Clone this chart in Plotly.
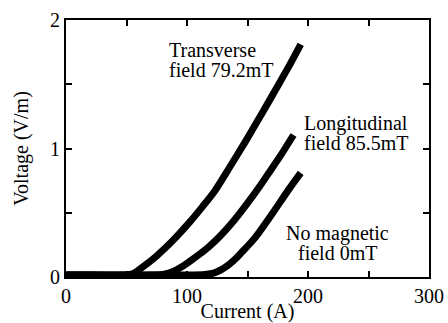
import plotly.graph_objects as go

# Transverse field 79.2 mT
trans_current = [0, 20, 40, 50, 55, 61, 68, 75, 82, 90, 102, 113, 123, 135, 148, 158, 167, 177, 186, 194]
trans_voltage = [0.015, 0.015, 0.012, 0.015, 0.025, 0.061, 0.11, 0.165, 0.225, 0.30, 0.425, 0.55, 0.67, 0.85, 1.05, 1.21, 1.355, 1.52, 1.67, 1.81]

# Longitudinal field 85.5 mT
long_current = [0, 40, 70, 80, 88, 95, 102, 110, 118, 126, 138, 150, 160, 168, 177, 188]
long_voltage = [0.015, 0.015, 0.015, 0.02, 0.04, 0.075, 0.12, 0.175, 0.235, 0.305, 0.43, 0.575, 0.705, 0.815, 0.94, 1.105]

# No magnetic field 0 mT
zero_current = [0, 60, 100, 115, 122, 128, 135, 141, 147, 153, 159, 171, 184, 194]
zero_voltage = [0.015, 0.015, 0.015, 0.02, 0.03, 0.055, 0.10, 0.15, 0.21, 0.27, 0.34, 0.50, 0.68, 0.81]

x_ticks = [0, 100, 200, 300]
y_ticks = [0, 1, 2]

FONT = "Liberation Serif"

fig = go.Figure()
for xs, ys in [(trans_current, trans_voltage), (long_current, long_voltage), (zero_current, zero_voltage)]:
    fig.add_trace(go.Scatter(x=xs, y=ys, mode="lines",
                             line=dict(color="black", width=7, shape="spline", smoothing=0.6),
                             showlegend=False, hoverinfo="skip"))

annos = [
    (167, 50, "Transverse", "left"),
    (167, 70, "field 79.2mT", "left"),
    (302, 123, "Longitudinal", "left"),
    (302, 143, "field 85.5mT", "left"),
    (337, 233, "No magnetic", "center"),
    (337, 253, "field 0mT", "center"),
]
L, R, T, B = 66, 429, 20, 277
for px, py, txt, al in annos:
    fig.add_annotation(
        x=(px - L) / (R - L) * 300, y=(B - py) / (B - T) * 2,
        xref="x", yref="y", text=txt, showarrow=False,
        xanchor=al, yanchor="middle",
        font=dict(family=FONT, size=20, color="black"))

axis_common = dict(
    showgrid=False, zeroline=False, showline=True, linecolor="black", linewidth=2,
    mirror="ticks", ticks="inside", ticklen=6, tickwidth=1.5, tickcolor="black",
    tickfont=dict(family=FONT, size=20, color="black"), automargin=False,
)
fig.update_xaxes(range=[0, 300], tickvals=x_ticks,
                 minor=dict(dtick=50, ticks="inside", ticklen=6, tickwidth=1.5, tickcolor="black"),
                 title=dict(text="Current (A)", font=dict(family=FONT, size=20, color="black"), standoff=0),
                 **axis_common)
fig.update_yaxes(range=[0, 2], tickvals=y_ticks,
                 minor=dict(dtick=0.5, ticks="inside", ticklen=6, tickwidth=1.5, tickcolor="black"),
                 title=dict(text="Voltage (V/m)", font=dict(family=FONT, size=20, color="black"), standoff=16),
                 **axis_common)

fig.update_layout(width=448, height=323, margin=dict(l=66, r=19, t=20, b=46),
                  plot_bgcolor="white", paper_bgcolor="white")
fig.write_html("out.html", config={"displayModeBar": False},
               post_script="document.body.style.margin='0';document.body.style.padding='0';document.body.style.overflow='hidden';")
